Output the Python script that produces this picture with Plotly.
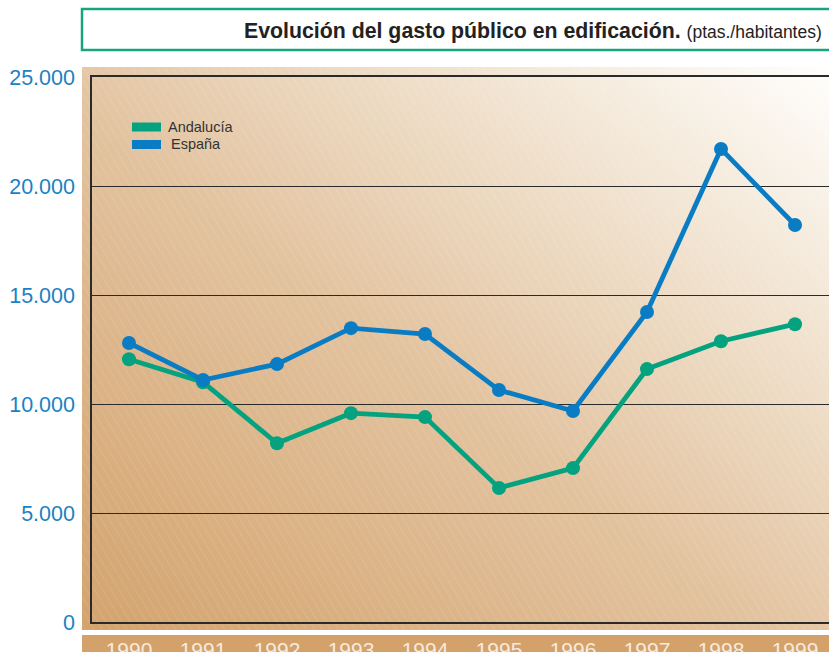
import base64
import plotly.graph_objects as go

years = [1990, 1991, 1992, 1993, 1994, 1995, 1996, 1997, 1998, 1999]
andalucia = [12050, 11000, 8200, 9580, 9400, 6150, 7060, 11600, 12880, 13660]
espana = [12800, 11100, 11830, 13480, 13210, 10640, 9680, 14220, 21700, 18210]
y_ticks = [0, 5000, 10000, 15000, 20000, 25000]
series_names = ["Andalucía", "España"]
title_main = "Evolución del gasto público en edificación."
title_unit = "(ptas./habitantes)"

GREEN = "#05a27f"
BLUE = "#0a7cc3"

W, H = 829, 652
L, R, T, B = 92, 0, 77, 30
pw, ph = W - L - R, H - T - B

def px(x):
    return (x - L) / pw

def py(y):
    return (H - B - y) / ph

svg = f"""<svg xmlns='http://www.w3.org/2000/svg' width='747' height='563' viewBox='0 0 747 563'>
<defs>
<linearGradient id='g' x1='0' y1='1' x2='1' y2='0'>
<stop offset='0' stop-color='#d3a36d'/>
<stop offset='0.45' stop-color='#e2c29e'/>
<stop offset='0.75' stop-color='#f1e3d0'/>
<stop offset='1' stop-color='#fffefc'/>
</linearGradient>
<pattern id='p' width='7' height='7' patternUnits='userSpaceOnUse' patternTransform='rotate(-31)'>
<line x1='0' y1='0' x2='0' y2='7' stroke='white' stroke-opacity='0.3' stroke-width='1' stroke-dasharray='1.5 1'/>
</pattern>
</defs>
<rect width='747' height='563' fill='url(#g)'/>
<rect width='747' height='563' fill='url(#p)'/>
</svg>"""
src = "data:image/svg+xml;base64," + base64.b64encode(svg.encode()).decode()

fig = go.Figure()
fig.add_trace(go.Scatter(x=years, y=andalucia, name=series_names[0], mode="lines+markers",
                         line=dict(color=GREEN, width=4.8), marker=dict(size=14, color=GREEN),
                         showlegend=False))
fig.add_trace(go.Scatter(x=years, y=espana, name=series_names[1], mode="lines+markers",
                         line=dict(color=BLUE, width=4.8), marker=dict(size=14, color=BLUE),
                         showlegend=False))

shapes = []
# x label band
shapes.append(dict(type="rect", xref="paper", yref="paper", x0=px(82), x1=px(840),
                   y0=py(660), y1=py(635), fillcolor="#d4a16b", line=dict(width=0), layer="below"))
# title box
shapes.append(dict(type="rect", xref="paper", yref="paper", x0=px(82), x1=px(835),
                   y0=py(50), y1=py(9), fillcolor="white", line=dict(color="#1aa37f", width=2.5)))
# legend swatches
for i, c in enumerate([GREEN, BLUE]):
    y0 = 122.5 + i * 17.5
    shapes.append(dict(type="rect", xref="paper", yref="paper", x0=px(132), x1=px(161),
                       y0=py(y0 + 9), y1=py(y0), fillcolor=c, line=dict(width=0)))

annotations = [
    dict(xref="paper", yref="paper", x=px(824), y=py(31), xanchor="right", yanchor="middle",
         showarrow=False,
         text=f"<b>{title_main}</b> <span style='font-size:17.5px'>{title_unit}</span>",
         font=dict(family="Liberation Sans, Arial", size=21.3, color="#222222")),
    dict(xref="paper", yref="paper", x=px(166), y=py(127), xanchor="left", yanchor="middle",
         showarrow=False, text=series_names[0],
         font=dict(family="Liberation Sans, Arial", size=14.5, color="#333333")),
    dict(xref="paper", yref="paper", x=px(169), y=py(144), xanchor="left", yanchor="middle",
         showarrow=False, text=series_names[1],
         font=dict(family="Liberation Sans, Arial", size=14.5, color="#333333")),
]

fig.update_layout(
    width=W, height=H,
    margin=dict(l=L, r=R, t=T, b=B, pad=0, autoexpand=False),
    paper_bgcolor="white", plot_bgcolor="rgba(0,0,0,0)",
    separators=",.",
    images=[dict(source=src, xref="paper", yref="paper", x=px(82), y=py(67),
                 sizex=(829 - 82) / pw, sizey=(630 - 67) / ph, sizing="stretch",
                 xanchor="left", yanchor="top", layer="below")],
    shapes=shapes,
    annotations=annotations,
    showlegend=False,
)
fig.update_xaxes(range=[1989.5, 1999 + 34 / 74], tickmode="array", tickvals=years,
                 ticktext=[str(y) for y in years], showgrid=False, zeroline=False,
                 showline=True, linecolor="#2a2a2a", linewidth=1.5, mirror=True,
                 ticks="", ticklabelstandoff=8, automargin=False,
                 tickfont=dict(family="Liberation Sans Narrow, Liberation Sans, Arial", size=21,
                               color="#f6ebde"))
fig.update_yaxes(range=[0, 25000], tickmode="array", tickvals=y_ticks, tickformat=",d",
                 showgrid=True, gridcolor="#2a2a2a", gridwidth=1, zeroline=False,
                 showline=True, linecolor="#2a2a2a", linewidth=1.5,
                 ticks="", ticklabelstandoff=11, automargin=False,
                 tickfont=dict(family="Liberation Sans, Arial", size=21.5, color="#1a82c4"))

fig.write_html("out.html", config={"displayModeBar": False})

with open("out.html", encoding="utf-8") as f:
    html = f.read()
html = html.replace("<head>", "<head><style>html,body{margin:0;padding:0;overflow:hidden;}</style>", 1)
with open("out.html", "w", encoding="utf-8") as f:
    f.write(html)
